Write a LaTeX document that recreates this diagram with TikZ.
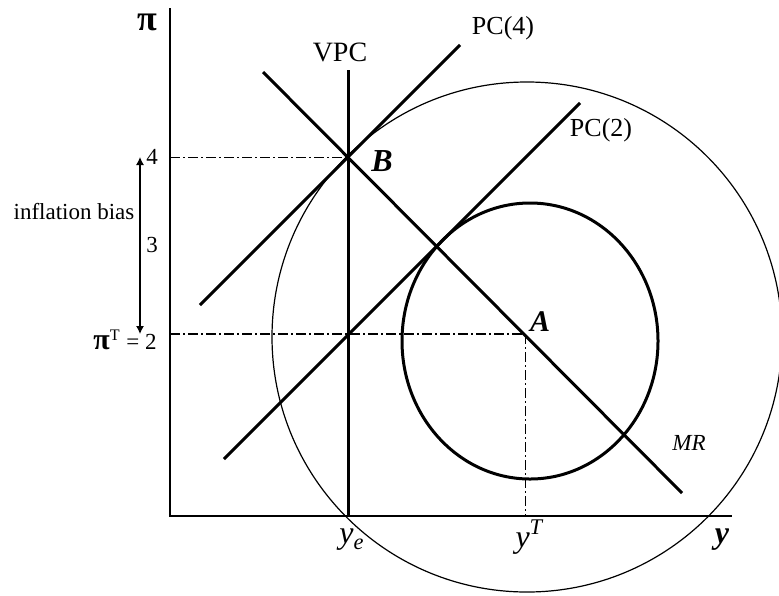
\documentclass[tikz,border=0pt]{standalone}
\usepackage{fontspec}
\setmainfont{Liberation Serif}
\usetikzlibrary{arrows.meta,positioning,calc}

\begin{document}
\begin{tikzpicture}[
x=0.5pt, y=-0.5pt,
axis/.style={line width=0.7pt},
curve/.style={line width=1.5pt},
loss/.style={line width=0.6pt},
guide/.style={line width=0.5pt, dash pattern=on 5pt off 1.5pt on 1pt off 1.5pt},
target/.style={line width=0.9pt, dash pattern=on 5pt off 1.5pt on 1pt off 1.5pt},
lbl/.style={inner sep=0pt, font=\fontsize{11.5}{13}\selectfont},
big/.style={inner sep=0pt, font=\fontsize{14}{16}\selectfont},
arr/.style={{Latex[length=4pt,width=4pt]}-{Latex[length=4pt,width=4pt]}, line width=0.6pt}
]
\clip (0,0) rectangle (779,595);
% points
\coordinate (O) at (170,516);
\coordinate (ytop) at (170,8);
\coordinate (xend) at (732,516);
\coordinate (B) at (348,157);
\coordinate (A) at (525,334);
\coordinate (pi4) at (170,157);
\coordinate (pi2) at (170,334);
\coordinate (yT) at (525,516);
\coordinate (vpctop) at (348,70);
\coordinate (vpcbot) at (348,516);
\coordinate (mrtop) at (263,72);
\coordinate (mrbot) at (682,493);
\coordinate (pc4bot) at (200,305);
\coordinate (pc4top) at (460,45);
\coordinate (pc2bot) at (224,459);
\coordinate (pc2top) at (580,103);
\coordinate (biastop) at (140,157);
\coordinate (biasbot) at (140,334);
% axes
\draw[axis] (ytop) -- (O) -- (xend);
% loss circles
\draw[loss] (527,337) circle [radius=255];
\draw[curve] (530,341) ellipse [x radius=128, y radius=138];
% guides
\draw[guide] (pi4) -- (B);
\draw[target] (pi2) -- (A);
\draw[guide] (A) -- (yT);
% curves
\draw[curve] (vpctop) -- (vpcbot);
\draw[curve] (mrtop) -- (mrbot);
\draw[curve] (pc4bot) -- (pc4top);
\draw[curve] (pc2bot) -- (pc2top);
\draw[arr] (biastop) -- (biasbot);
% labels
\node[big, font=\fontsize{18}{20}\selectfont] (pilab) at (147,22) {\textbf{π}};
\node[big] (vpclab) at (340,52) {VPC};
\node[lbl, font=\fontsize{13}{15}\selectfont] (pc4lab) at (503,28) {PC(4)};
\node[lbl, font=\fontsize{13}{15}\selectfont] (pc2lab) at (601,130) {PC(2)};
\node[lbl] (fourlab) at (152,157) {4};
\node[lbl] (threelab) at (152,245) {3};
\node[lbl] (biaslab) at (74,212) {inflation bias};
\node[lbl] (pitlab) at (125,340) {{\fontsize{15}{15}\selectfont\textbf{π}}\textsuperscript{T} = 2};
\node[big, font=\fontsize{16}{18}\selectfont] (blab) at (382,161) {\textbf{\textit{B}}};
\node[big, font=\fontsize{15}{17}\selectfont] (alab) at (540,322) {\textbf{\textit{A}}};
\node[lbl] (mrlab) at (689,443) {\textit{MR}};
\node[big, font=\fontsize{16}{18}\selectfont] (yelab) at (352,540) {\textit{y}\textsubscript{\textit{e}}};
\node[big, font=\fontsize{16}{18}\selectfont] (ytlab) at (530,537) {\textit{y}\textsuperscript{\textit{T}}};
\node[big, font=\fontsize{16}{18}\selectfont] (ylab) at (722,540) {\textbf{\textit{y}}};
\end{tikzpicture}
\end{document}
